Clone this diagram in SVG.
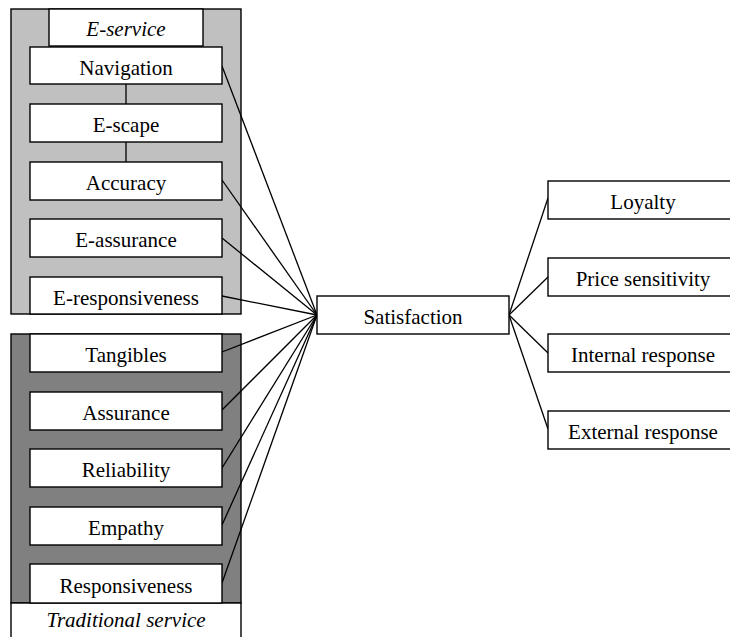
<svg xmlns="http://www.w3.org/2000/svg" width="730" height="637" viewBox="0 0 730 637">
<style>
.b{fill:#fff;stroke:#000;stroke-width:1.4}
.t{font-family:"Liberation Serif","Times New Roman",serif;font-size:21px;text-anchor:middle;fill:#000}
.i{font-style:italic}
.c line{stroke:#000;stroke-width:1.3}
</style>
<rect width="730" height="637" fill="#fff"/>
<g id="eservice">
<rect x="11" y="9" width="230" height="305" fill="#c0c0c0" stroke="#000" stroke-width="1.4"/>
<rect class="b" x="49" y="9" width="154" height="37"/>
<text class="t i" x="126" y="36">E-service</text>
</g>
<g id="traditional">
<rect x="11" y="334" width="230" height="269" fill="#808080" stroke="#000" stroke-width="1.4"/>
<rect class="b" x="11" y="603" width="230" height="40"/>
<text class="t i" x="126" y="627">Traditional service</text>
</g>
<g class="c" id="connectors">
<line x1="126" y1="84" x2="126" y2="104"/>
<line x1="126" y1="142" x2="126" y2="162"/>
<line x1="222" y1="66" x2="317" y2="315"/>
<line x1="222" y1="180" x2="317" y2="315"/>
<line x1="222" y1="238" x2="317" y2="315"/>
<line x1="222" y1="296" x2="317" y2="315"/>
<line x1="222" y1="352" x2="317" y2="315"/>
<line x1="222" y1="410" x2="317" y2="315"/>
<line x1="222" y1="468" x2="317" y2="315"/>
<line x1="222" y1="525" x2="317" y2="315"/>
<line x1="222" y1="583" x2="317" y2="315"/>
<line x1="509" y1="315" x2="548" y2="198"/>
<line x1="509" y1="315" x2="548" y2="277"/>
<line x1="509" y1="315" x2="548" y2="353"/>
<line x1="509" y1="315" x2="548" y2="429"/>
</g>
<g id="navigation"><rect class="b" x="30" y="47" width="192" height="37"/><text class="t" x="126" y="75">Navigation</text></g>
<g id="escape"><rect class="b" x="30" y="104" width="192" height="38"/><text class="t" x="126" y="132">E-scape</text></g>
<g id="accuracy"><rect class="b" x="30" y="162" width="192" height="38"/><text class="t" x="126" y="190">Accuracy</text></g>
<g id="eassurance"><rect class="b" x="30" y="219" width="192" height="38"/><text class="t" x="126" y="247">E-assurance</text></g>
<g id="eresponsiveness"><rect class="b" x="30" y="277" width="192" height="37"/><text class="t" x="126" y="305">E-responsiveness</text></g>
<g id="tangibles"><rect class="b" x="30" y="334" width="192" height="38"/><text class="t" x="126" y="362">Tangibles</text></g>
<g id="assurance"><rect class="b" x="30" y="392" width="192" height="38"/><text class="t" x="126" y="420">Assurance</text></g>
<g id="reliability"><rect class="b" x="30" y="449" width="192" height="38"/><text class="t" x="126" y="477">Reliability</text></g>
<g id="empathy"><rect class="b" x="30" y="507" width="192" height="38"/><text class="t" x="126" y="535">Empathy</text></g>
<g id="responsiveness"><rect class="b" x="30" y="564" width="192" height="39"/><text class="t" x="126" y="593">Responsiveness</text></g>
<g id="satisfaction"><rect class="b" x="317" y="296" width="192" height="38"/><text class="t" x="413" y="324">Satisfaction</text></g>
<g id="loyalty"><rect class="b" x="548" y="181" width="192" height="38"/><text class="t" x="643" y="209">Loyalty</text></g>
<g id="price"><rect class="b" x="548" y="258" width="192" height="38"/><text class="t" x="643" y="286">Price sensitivity</text></g>
<g id="internal"><rect class="b" x="548" y="334" width="192" height="38"/><text class="t" x="643" y="362">Internal response</text></g>
<g id="external"><rect class="b" x="548" y="411" width="192" height="38"/><text class="t" x="643" y="439">External response</text></g>
</svg>
